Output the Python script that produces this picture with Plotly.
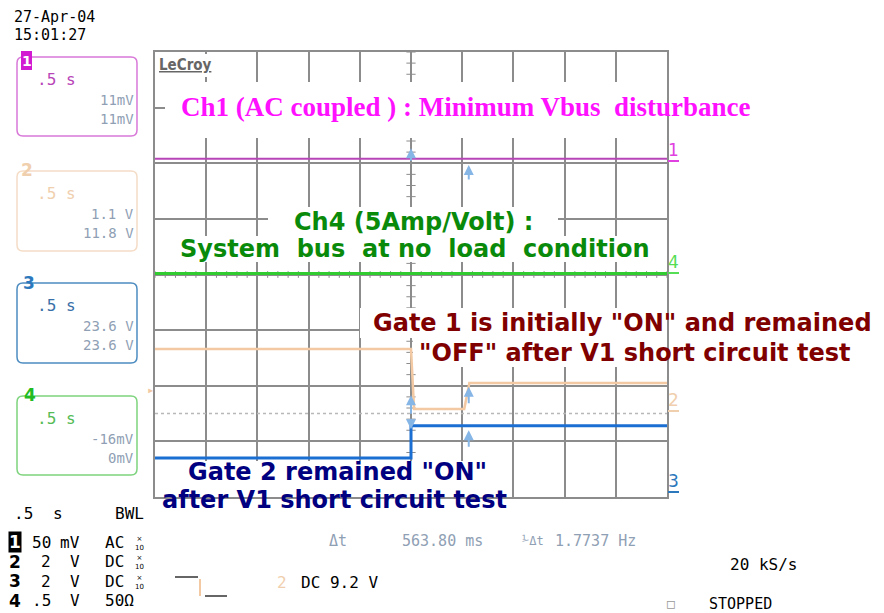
import plotly.graph_objects as go

# screen geometry of the scope grid (pixels in the 884x613 page)
X0, X1, Y0, Y1 = 155, 667, 52, 497
PAGE = 8  # default body margin of the html page

# traces: time in s (0.5 s/div, trigger at centre), level in divisions
ch1_t = [-2.5, 2.5]
ch1_v = [2.08, 2.08]
ch4_t = [-2.5, 2.5]
ch4_v = [0.02, 0.02]
ch2_t = [-2.5, 0.0, 0.03, 0.52, 0.57, 2.5]
ch2_v = [-1.34, -1.34, -2.42, -2.42, -1.95, -1.95]
ch3_t = [-2.5, 0.0, 0.0, 2.5]
ch3_v = [-3.3, -3.3, -2.72, -2.72]
ref_t = [-2.5, 2.5]
ref_v = [-2.5, -2.5]

MONO = "DejaVu Sans Mono"
C_CH1 = "#b845b8"
C_CH2 = "#f2c9a2"
C_CH3 = "#1c6fd2"
C_CH4 = "#30cc30"
C_GRID = "#8c8c8c"
C_VAL = "#8fa0b4"
C_CUR = "#86b6e6"


def px(x):
    return (x - X0) / (X1 - X0)


def py(y):
    return (Y1 - y) / (Y1 - Y0)


def dx(x):
    return -2.5 + 5 * (min(x, X1) - X0) / (X1 - X0)


def dy(y):
    return 4 - 8 * (y - Y0) / (Y1 - Y0)


def rrect(x0, y0, x1, y1, r=6):
    p = lambda x, y: f"{px(x):.5f},{py(y):.5f}"
    return (f"M {p(x0 + r, y0)} L {p(x1 - r, y0)} Q {p(x1, y0)} {p(x1, y0 + r)} "
            f"L {p(x1, y1 - r)} Q {p(x1, y1)} {p(x1 - r, y1)} L {p(x0 + r, y1)} "
            f"Q {p(x0, y1)} {p(x0, y1 - r)} L {p(x0, y0 + r)} Q {p(x0, y0)} {p(x0 + r, y0)} Z")


fig = go.Figure()

fig.add_trace(go.Scatter(x=ref_t, y=ref_v, mode="lines",
                         line=dict(color="#b8b8b8", width=1.5, dash="dot"), showlegend=False))
fig.add_trace(go.Scatter(x=ch1_t, y=ch1_v, mode="lines",
                         line=dict(color=C_CH1, width=2), showlegend=False))
fig.add_trace(go.Scatter(x=ch4_t, y=ch4_v, mode="lines",
                         line=dict(color=C_CH4, width=3), showlegend=False))
fig.add_trace(go.Scatter(x=ch2_t, y=ch2_v, mode="lines",
                         line=dict(color=C_CH2, width=2.5), showlegend=False))
fig.add_trace(go.Scatter(x=ch3_t, y=ch3_v, mode="lines",
                         line=dict(color=C_CH3, width=3), showlegend=False))

shapes = []
ann = []

# centre graticule ticks (under the text patches)
for i in range(51):
    t = -2.5 + 0.1 * i
    shapes.append(dict(type="line", xref="x", yref="y", x0=t, x1=t, y0=-0.06, y1=0.06,
                       line=dict(color=C_GRID, width=1), layer="between"))
for i in range(41):
    v = -4 + 0.2 * i
    shapes.append(dict(type="line", xref="x", yref="y", x0=-0.045, x1=0.045, y0=v, y1=v,
                       line=dict(color=C_GRID, width=1), layer="between"))


def label(x, y, text, color="black", size=15, family=MONO, anchor="left", bg=None, bold=False, **kw):
    d = dict(x=px(x), y=py(y), xref="paper", yref="paper", text=text, showarrow=False,
             xanchor=anchor, yanchor="middle", font=dict(family=family, size=size, color=color))
    if bold:
        d["font"]["weight"] = "bold"
    if bg:
        d.update(bgcolor=bg)
    d.update(kw)
    ann.append(d)


def mask(x0, y0, x1, y1):
    # white patch over the graticule, under the traces
    shapes.append(dict(type="rect", xref="x", yref="y", x0=dx(x0), x1=dx(x1), y0=dy(y1), y1=dy(y0),
                       fillcolor="white", line=dict(width=0), layer="between"))


# cursors
for cx, cy, tail in [(0, 2.27, 14), (0, -2.17, 20), (0, -2.78, -12),
                     (0.564, 1.97, 16), (0.564, -2.02, 18), (0.564, -2.8, 18)]:
    ann.append(dict(x=cx, y=cy, xref="x", yref="y", ax=0, ay=tail, text="", showarrow=True,
                    arrowhead=2, arrowsize=1, arrowwidth=2, arrowcolor=C_CUR))

# top-left date
label(12, 17, "27-Apr-04", size=15)
label(12, 35, "15:01:27", size=15)

# channel boxes
boxes = [
    (57, 136, "#d878d8", C_CH1, "11mV", "11mV"),
    (171, 251, "#f5dcc6", "#f0cfae", "1.1 V", "11.8 V"),
    (283, 363, "#4c8cc0", "#3a70a8", "23.6 V", "23.6 V"),
    (396, 475, "#7ed47e", "#55bb55", "-16mV", "0mV"),
]
for top, bot, bc, tc, v1, v2 in boxes:
    shapes.append(dict(type="path", path=rrect(17, top, 137, bot), xref="paper", yref="paper",
                       line=dict(color=bc, width=1.5)))
    label(35, top + 22, ".5 s", color=tc, size=16)
    label(136, top + 43, v1, color=C_VAL, size=14, anchor="right")
    label(136, top + 62, v2, color=C_VAL, size=14, anchor="right")
shapes.append(dict(type="rect", xref="paper", yref="paper", x0=px(21), x1=px(32), y0=py(70), y1=py(51),
                   fillcolor="#d21ad2", line=dict(width=0)))
label(26.5, 61, "<b>1</b>", color="white", size=14, family="DejaVu Sans", anchor="center")
label(27, 170, "<b>2</b>", color="#f0cfae", size=17, family="DejaVu Sans", anchor="center")
label(29, 283, "<b>3</b>", color="#2c78bc", size=17, family="DejaVu Sans", anchor="center")
label(30, 395, "<b>4</b>", color="#22bb22", size=17, family="DejaVu Sans", anchor="center")
label(150, 390, "▸", color=C_CH2, size=12, anchor="center")

# right side channel markers
for y, num, c in [(150, "1", "#e040e0"), (262, "4", "#55dd55"), (400, "2", "#f0cfae"), (481, "3", "#2c78bc")]:
    label(673, y, num, color=c, size=17, family="DejaVu Sans", anchor="center")
    shapes.append(dict(type="line", xref="paper", yref="paper", x0=px(668), x1=px(679),
                       y0=py(y + 11), y1=py(y + 11), line=dict(color=c, width=2)))

# LeCroy logo
mask(157, 54, 208, 77)
label(157, 65, "<u>LeCroy</u>", color="#666666", size=15, family="DejaVu Sans Condensed", bold=True)

# bottom-left settings
label(12, 513, ".5", size=16)
label(51, 513, "s", size=16)
label(146, 513, "BWL", size=16, anchor="right")
rows = [("1", "50", "mV", "AC", "×<br>10"), ("2", "2", "V", "DC", "×<br>10"),
        ("3", "2", "V", "DC", "×<br>10"), ("4", ".5", "V", "50Ω", "")]
for i, (n, a, u, cpl, prb) in enumerate(rows):
    y = 542 + i * 19.5
    label(15, y, f"<b>{n}</b>", color="white" if n == "1" else "black", size=17,
          family="DejaVu Sans", anchor="center", bg="black" if n == "1" else None, borderpad=0)
    label(53, y, a, size=16, anchor="right")
    label(82, y, u, size=16, anchor="right")
    label(103, y, cpl, size=16)
    if prb:
        label(139, y + 1, prb, size=7, family="DejaVu Sans", anchor="center")

# trigger symbol
shapes += [
    dict(type="line", xref="paper", yref="paper", x0=px(175), x1=px(198), y0=py(577), y1=py(577),
         line=dict(color="#333333", width=1.5)),
    dict(type="line", xref="paper", yref="paper", x0=px(200), x1=px(200), y0=py(579), y1=py(596),
         line=dict(color=C_CH2, width=2)),
    dict(type="line", xref="paper", yref="paper", x0=px(205), x1=px(227), y0=py(596), y1=py(596),
         line=dict(color="#333333", width=1.5)),
]
label(282, 582, "2", color="#f0cfae", size=16, anchor="center")
label(299, 582, "DC 9.2 V", size=16)

# cursor readout
label(327, 541, "Δt", color=C_VAL, size=15)
label(400, 541, "563.80 ms", color=C_VAL, size=15)
label(520, 541, "⅟Δt", color=C_VAL, size=12)
label(553, 541, "1.7737 Hz", color=C_VAL, size=15)
label(728, 564, "20 kS/s", size=16)
label(671, 603, "□", color="#999999", size=13, anchor="center")
label(707, 604, "STOPPED", size=15)

# text overlays
mask(165, 82, 667, 138)
label(466, 107, "Ch1 (AC coupled ) : Minimum Vbus  disturbance", color="#ff10ff", size=27,
      family="Liberation Serif", anchor="center", bold=True)

SANS = "DejaVu Sans"
overlays = [
    ("Ch4 (5Amp/Volt) :", "#0a8a0a", 413, 222, (268, 207, 558, 236)),
    ("System  bus  at no  load  condition", "#0a8a0a", 415, 249, (168, 236, 662, 262)),
    ("Gate 1 is initially \"ON\" and remained", "#800000", 622, 323, (360, 308, 667, 338)),
    ("\"OFF\" after V1 short circuit test", "#800000", 634, 353, (413, 338, 667, 367)),
    ("Gate 2 remained \"ON\"", "#000080", 337, 472, (182, 461, 494, 486)),
    ("after V1 short circuit test", "#000080", 334, 500, (162, 486, 507, 497)),
]
for text, col, x, y, box in overlays:
    mask(*box)
    label(x, y, f"<b>{text}</b>", color=col, size=24, family=SANS, anchor="center")

axis = dict(showticklabels=False, ticks="", zeroline=False, showgrid=True, gridcolor=C_GRID,
            gridwidth=1.5, showline=True, linecolor=C_GRID, linewidth=2, mirror=True, fixedrange=True)
fig.update_layout(
    width=884, height=613,
    margin=dict(l=X0 - PAGE, r=884 - X1 + PAGE, t=Y0 - PAGE, b=613 - Y1 + PAGE),
    paper_bgcolor="white", plot_bgcolor="white",
    xaxis=dict(range=[-2.5, 2.5], dtick=0.5, tick0=0, **axis),
    yaxis=dict(range=[-4, 4], dtick=1, tick0=0, **axis),
    shapes=shapes, annotations=ann, showlegend=False,
)

fig.write_html("out.html")
